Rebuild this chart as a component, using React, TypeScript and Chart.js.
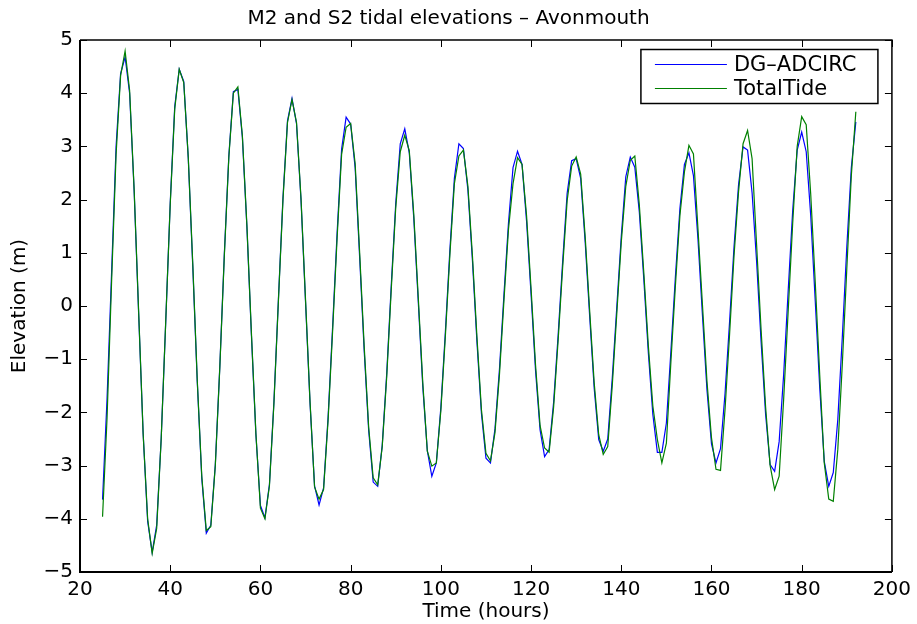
import React, { useEffect, useRef } from "react";
import { Chart, registerables } from "chart.js";

Chart.register(...registerables);

const TITLE = "M2 and S2 tidal elevations – Avonmouth";
const X_LABEL = "Time (hours)";
const Y_LABEL = "Elevation (m)";
const SERIES_NAMES = ["DG–ADCIRC", "TotalTide"];
const SERIES_COLORS = ["#0000ff", "#008000"];
const START_HOUR = 25;
const X_MIN = 20;
const X_MAX = 200;
const X_STEP = 20;
const Y_MIN = -5;
const Y_MAX = 5;
const Y_STEP = 1;

// hourly elevations, t = 25 .. 192 h
const dgAdcirc = [
  -3.64, -1.74, 0.62, 3.0, 4.37, 4.68, 4.0, 2.17, -0.14, -2.4,
  -4.05, -4.63, -4.12, -2.49, -0.31, 1.93, 3.75, 4.45, 4.22, 2.78,
  0.75, -1.43, -3.24, -4.27, -4.12, -2.98, -1.13, 0.98, 2.83, 4.03,
  4.07, 3.17, 1.49, -0.54, -2.42, -3.75, -3.98, -3.35, -1.79, 0.15,
  2.04, 3.48, 3.9, 3.43, 1.99, 0.08, -1.83, -3.38, -3.74, -3.42,
  -2.09, -0.4, 1.37, 2.95, 3.55, 3.42, 2.6, 0.91, -0.83, -2.34,
  -3.31, -3.39, -2.62, -1.27, 0.38, 1.93, 3.05, 3.33, 2.88, 1.65,
  0.07, -1.52, -2.72, -3.2, -2.95, -1.91, -0.49, 1.05, 2.4, 3.05,
  2.96, 2.18, 0.86, -0.67, -2.02, -2.86, -2.95, -2.31, -1.18, 0.23,
  1.57, 2.6, 2.91, 2.66, 1.6, 0.22, -1.22, -2.33, -2.83, -2.7,
  -1.81, -0.55, 0.83, 2.12, 2.73, 2.77, 2.4, 1.2, -0.2, -1.55,
  -2.51, -2.73, -2.5, -1.36, -0.03, 1.31, 2.43, 2.8, 2.61, 1.77,
  0.5, -0.88, -2.04, -2.75, -2.75, -2.2, -0.85, 0.55, 1.83, 2.66,
  2.88, 2.45, 1.26, -0.18, -1.58, -2.59, -2.95, -2.68, -1.65, -0.31,
  1.12, 2.28, 2.99, 2.93, 2.13, 0.84, -0.67, -2.04, -2.98, -3.11,
  -2.55, -1.29, 0.28, 1.79, 2.93, 3.27, 2.9, 1.7, 0.1, -1.54,
  -2.92, -3.39, -3.13, -2.14, -0.59, 1.11, 2.6, 3.46,
];

const totalTide = [
  -3.96, -2.1, 0.45, 2.85, 4.33, 4.79, 4.05, 2.2, -0.1, -2.4,
  -4.0, -4.65, -4.18, -2.5, -0.3, 1.9, 3.7, 4.45, 4.2, 2.8,
  0.8, -1.4, -3.2, -4.22, -4.15, -3.0, -1.15, 0.95, 2.8, 4.0,
  4.12, 3.2, 1.52, -0.5, -2.4, -3.8, -4.0, -3.38, -1.82, 0.12,
  2.0, 3.45, 3.88, 3.45, 2.02, 0.12, -1.8, -3.4, -3.63, -3.45,
  -2.15, -0.48, 1.28, 2.85, 3.36, 3.43, 2.68, 1.0, -0.75, -2.28,
  -3.23, -3.36, -2.65, -1.33, 0.3, 1.85, 2.9, 3.21, 2.92, 1.72,
  0.15, -1.45, -2.73, -3.01, -2.95, -1.97, -0.57, 0.96, 2.3, 2.82,
  2.93, 2.25, 0.95, -0.58, -1.95, -2.77, -2.91, -2.38, -1.28, 0.12,
  1.45, 2.3, 2.79, 2.66, 1.7, 0.33, -1.12, -2.25, -2.67, -2.75,
  -1.9, -0.65, 0.72, 1.98, 2.63, 2.8, 2.48, 1.3, -0.1, -1.45,
  -2.42, -2.79, -2.64, -1.5, -0.15, 1.2, 2.25, 2.74, 2.82, 1.9,
  0.62, -0.75, -1.88, -2.51, -2.95, -2.58, -1.05, 0.38, 1.7, 2.52,
  3.02, 2.86, 1.45, 0.02, -1.42, -2.48, -3.07, -3.09, -1.95, -0.55,
  0.95, 2.15, 3.05, 3.3, 2.77, 1.15, -0.45, -1.9, -3.0, -3.45,
  -3.2, -1.75, -0.1, 1.55, 3.0, 3.56, 3.41, 2.1, 0.45, -1.3,
  -2.95, -3.63, -3.67, -2.7, -1.1, 0.7, 2.45, 3.65,
];

const hours = dgAdcirc.map((_, i) => START_HOUR + i);

const FONT = "'DejaVu Sans', 'Liberation Sans', Arial, sans-serif";

const fmtTick = (v: number) => (v < 0 ? "\u2212" + Math.abs(v) : String(v));

const framePlugin = {
  id: "matlabFrame",
  afterDatasetsDraw(chart: any) {
    const { ctx, chartArea: a, scales } = chart;
    const xs = scales.x;
    const ys = scales.y;
    const L = 7;
    ctx.save();
    ctx.strokeStyle = "#000";
    ctx.lineWidth = 1;
    ctx.beginPath();
    xs.ticks.forEach((t: any) => {
      const px = Math.round(xs.getPixelForValue(t.value)) + 0.5;
      ctx.moveTo(px, a.bottom);
      ctx.lineTo(px, a.bottom - L);
      ctx.moveTo(px, a.top);
      ctx.lineTo(px, a.top + L);
    });
    ys.ticks.forEach((t: any) => {
      const py = Math.round(ys.getPixelForValue(t.value)) + 0.5;
      ctx.moveTo(a.left, py);
      ctx.lineTo(a.left + L, py);
      ctx.moveTo(a.right, py);
      ctx.lineTo(a.right - L, py);
    });
    ctx.stroke();
    ctx.lineWidth = 1.5;
    ctx.beginPath();
    ctx.moveTo(a.left, a.top);
    ctx.lineTo(a.right, a.top);
    ctx.lineTo(a.right, a.bottom);
    ctx.stroke();
    ctx.lineWidth = 2;
    ctx.beginPath();
    ctx.moveTo(a.left, a.top);
    ctx.lineTo(a.left, a.bottom);
    ctx.lineTo(a.right, a.bottom);
    ctx.stroke();
    ctx.restore();
  },
};

const legendPlugin = {
  id: "insideLegend",
  afterDraw(chart: any) {
    const { ctx, chartArea: a } = chart;
    const boxRight = a.right - 14;
    const boxW = 237;
    const boxTop = a.top + 9.5;
    const rowH = 24;
    const boxH = 54;
    const left = boxRight - boxW;
    ctx.save();
    ctx.fillStyle = "#fff";
    ctx.fillRect(left, boxTop, boxW, boxH);
    ctx.strokeStyle = "#000";
    ctx.lineWidth = 1.5;
    ctx.strokeRect(left, boxTop, boxW, boxH);
    ctx.font = `21px ${FONT}`;
    ctx.textBaseline = "middle";
    ctx.textAlign = "left";
    chart.data.datasets.forEach((ds: any, i: number) => {
      const y = boxTop + 15 + i * rowH;
      ctx.strokeStyle = ds.borderColor;
      ctx.lineWidth = 1.2;
      ctx.beginPath();
      ctx.moveTo(left + 14, y);
      ctx.lineTo(left + 86, y);
      ctx.stroke();
      ctx.fillStyle = "#000";
      ctx.fillText(ds.label, left + 93, y + 1);
    });
    ctx.restore();
  },
};

export default function App() {
  const ref = useRef<HTMLCanvasElement | null>(null);

  useEffect(() => {
    if (!ref.current) return;
    const chart = new Chart(ref.current, {
      type: "line",
      data: {
        datasets: [
          {
            label: SERIES_NAMES[0],
            data: hours.map((h, i) => ({ x: h, y: dgAdcirc[i] })),
            borderColor: SERIES_COLORS[0],
            backgroundColor: SERIES_COLORS[0],
            borderWidth: 1.2,
            pointRadius: 0,
            tension: 0,
            fill: false,
            order: 1,
          },
          {
            label: SERIES_NAMES[1],
            data: hours.map((h, i) => ({ x: h, y: totalTide[i] })),
            borderColor: SERIES_COLORS[1],
            backgroundColor: SERIES_COLORS[1],
            borderWidth: 1.2,
            pointRadius: 0,
            tension: 0,
            fill: false,
            order: 0,
          },
        ],
      },
      options: {
        animation: false,
        responsive: false,
        maintainAspectRatio: false,
        events: [],
        layout: { padding: { left: 0, right: 20, top: 0, bottom: 0 } },
        plugins: {
          legend: { display: false },
          tooltip: { enabled: false },
          title: {
            display: true,
            text: TITLE,
            color: "#000",
            font: { family: FONT, size: 20, weight: "normal" },
            padding: { top: 7, bottom: 9 },
          },
        },
        scales: {
          x: {
            type: "linear",
            min: X_MIN,
            max: X_MAX,
            grid: { display: false, drawTicks: false },
            border: { display: false },
            ticks: {
              stepSize: X_STEP,
              color: "#000",
              padding: 6,
              maxRotation: 0,
              font: { family: FONT, size: 20 },
              callback: (v: any) => fmtTick(Number(v)),
            },
            title: {
              display: true,
              text: X_LABEL,
              color: "#000",
              font: { family: FONT, size: 20 },
              padding: { top: 0, bottom: 0 },
            },
            afterFit: (s: any) => {
              s.height = 52;
            },
          },
          y: {
            type: "linear",
            min: Y_MIN,
            max: Y_MAX,
            grid: { display: false, drawTicks: false },
            border: { display: false },
            ticks: {
              stepSize: Y_STEP,
              color: "#000",
              padding: 7,
              font: { family: FONT, size: 20 },
              callback: (v: any) => fmtTick(Number(v)),
            },
            title: {
              display: true,
              text: Y_LABEL,
              color: "#000",
              font: { family: FONT, size: 20 },
              padding: { top: 8, bottom: 0 },
            },
            afterFit: (s: any) => {
              s.width = 80;
            },
          },
        },
      },
      plugins: [framePlugin, legendPlugin],
    } as any);
    return () => chart.destroy();
  }, []);

  return (
    <div
      style={{
        position: "fixed",
        left: 0,
        top: 0,
        width: 917,
        height: 624,
        background: "#fff",
      }}
    >
      <canvas ref={ref} width={917} height={624} style={{ display: "block" }} />
    </div>
  );
}
